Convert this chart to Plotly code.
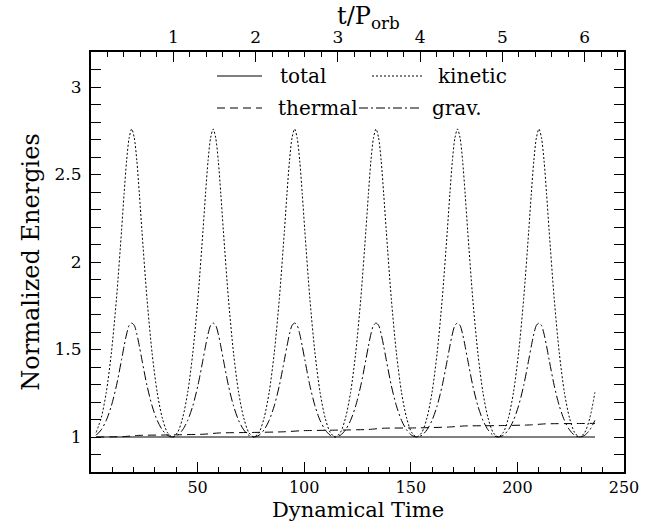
import plotly.graph_objects as go

# ---- data ----
time = [2.39, 4.78, 7.16, 9.55, 11.94, 14.33, 15.52, 16.71, 17.91, 19.10, 20.29, 21.49, 22.68, 23.88, 26.26, 28.65, 31.04, 33.43, 35.81, 38.20,
        40.59, 42.98, 45.36, 47.75, 50.14, 52.53, 53.72, 54.91, 56.11, 57.30, 58.49, 59.69, 60.88, 62.08, 64.46, 66.85, 69.24, 71.63, 74.01, 76.40,
        78.79, 81.18, 83.56, 85.95, 88.34, 90.73, 91.92, 93.11, 94.31, 95.50, 96.69, 97.89, 99.08, 100.28, 102.66, 105.05, 107.44, 109.83, 112.21, 114.60,
        116.99, 119.38, 121.76, 124.15, 126.54, 128.93, 130.12, 131.31, 132.51, 133.70, 134.89, 136.09, 137.28, 138.48, 140.86, 143.25, 145.64, 148.03, 150.41, 152.80,
        155.19, 157.58, 159.96, 162.35, 164.74, 167.13, 168.32, 169.51, 170.71, 171.90, 173.09, 174.29, 175.48, 176.68, 179.06, 181.45, 183.84, 186.23, 188.61, 191.00,
        193.39, 195.78, 198.16, 200.55, 202.94, 205.33, 206.52, 207.71, 208.91, 210.10, 211.29, 212.49, 213.68, 214.88, 217.26, 219.65, 222.04, 224.43, 226.81, 229.20,
        231.59, 233.98, 236.36]

kinetic = [1.026, 1.109, 1.255, 1.48, 1.79, 2.18, 2.39, 2.58, 2.71, 2.76, 2.71, 2.58, 2.39, 2.18, 1.79, 1.48, 1.255, 1.109, 1.026, 1.000,
           1.026, 1.109, 1.255, 1.48, 1.79, 2.18, 2.39, 2.58, 2.71, 2.76, 2.71, 2.58, 2.39, 2.18, 1.79, 1.48, 1.255, 1.109, 1.026, 1.000,
           1.026, 1.109, 1.255, 1.48, 1.79, 2.18, 2.39, 2.58, 2.71, 2.76, 2.71, 2.58, 2.39, 2.18, 1.79, 1.48, 1.255, 1.109, 1.026, 1.000,
           1.026, 1.109, 1.255, 1.48, 1.79, 2.18, 2.39, 2.58, 2.71, 2.76, 2.71, 2.58, 2.39, 2.18, 1.79, 1.48, 1.255, 1.109, 1.026, 1.000,
           1.026, 1.109, 1.255, 1.48, 1.79, 2.18, 2.39, 2.58, 2.71, 2.76, 2.71, 2.58, 2.39, 2.18, 1.79, 1.48, 1.255, 1.109, 1.026, 1.000,
           1.026, 1.109, 1.255, 1.48, 1.79, 2.18, 2.39, 2.58, 2.71, 2.76, 2.71, 2.58, 2.39, 2.18, 1.79, 1.48, 1.255, 1.109, 1.026, 1.000,
           1.026, 1.109, 1.255]

grav = [1.010, 1.041, 1.095, 1.178, 1.294, 1.442, 1.519, 1.589, 1.638, 1.651, 1.638, 1.589, 1.519, 1.442, 1.294, 1.178, 1.095, 1.041, 1.010, 1.000,
        1.010, 1.041, 1.095, 1.178, 1.294, 1.442, 1.519, 1.589, 1.638, 1.651, 1.638, 1.589, 1.519, 1.442, 1.294, 1.178, 1.095, 1.041, 1.010, 1.000,
        1.010, 1.041, 1.095, 1.178, 1.294, 1.442, 1.519, 1.589, 1.638, 1.651, 1.638, 1.589, 1.519, 1.442, 1.294, 1.178, 1.095, 1.041, 1.010, 1.000,
        1.010, 1.041, 1.095, 1.178, 1.294, 1.442, 1.519, 1.589, 1.638, 1.651, 1.638, 1.589, 1.519, 1.442, 1.294, 1.178, 1.095, 1.041, 1.010, 1.000,
        1.010, 1.041, 1.095, 1.178, 1.294, 1.442, 1.519, 1.589, 1.638, 1.651, 1.638, 1.589, 1.519, 1.442, 1.294, 1.178, 1.095, 1.041, 1.010, 1.000,
        1.010, 1.041, 1.095, 1.178, 1.294, 1.442, 1.519, 1.589, 1.638, 1.651, 1.638, 1.589, 1.519, 1.442, 1.294, 1.178, 1.095, 1.041, 1.010, 1.000,
        1.010, 1.041, 1.095]

thermal_t = [2.4, 15, 22, 38, 53, 60, 76, 91, 99, 114, 130, 137, 153, 168, 175, 191, 206, 213, 229, 236.4]
thermal = [1.000, 1.002, 1.009, 1.012, 1.016, 1.023, 1.026, 1.030, 1.036, 1.039, 1.043, 1.050, 1.052, 1.057, 1.063, 1.065, 1.069, 1.075, 1.077, 1.078]

total_t = [2.4, 50, 100, 150, 200, 236.4]
total = [1.0, 1.0, 1.0, 1.0, 1.0, 1.0]

x_ticks = [50, 100, 150, 200, 250]
y_ticks = [1, 1.5, 2, 2.5, 3]
orb_ticks = [1, 2, 3, 4, 5, 6]
P_ORB = 38.6
X_MAX = 250

legend_items = ["total", "kinetic", "thermal", "grav."]

FONT = "DejaVu Serif"
ink = "black"

fig = go.Figure()
fig.add_trace(go.Scatter(x=total_t, y=total, mode="lines", name="total",
                         line=dict(color=ink, width=1), showlegend=False))
fig.add_trace(go.Scatter(x=time, y=kinetic, mode="lines", name="kinetic",
                         line=dict(color=ink, width=1, dash="2px,2px", shape="spline", smoothing=0.8), showlegend=False))
fig.add_trace(go.Scatter(x=thermal_t, y=thermal, mode="lines", name="thermal",
                         line=dict(color=ink, width=1, dash="8px,5px", shape="spline", smoothing=0.6), showlegend=False))
fig.add_trace(go.Scatter(x=time, y=grav, mode="lines", name="grav.",
                         line=dict(color=ink, width=1, dash="9px,3px,2px,3px", shape="spline", smoothing=0.8), showlegend=False))
# invisible trace to carry the top axis
fig.add_trace(go.Scatter(x=[0, X_MAX / P_ORB], y=[1, 1], xaxis="x2", mode="lines",
                         line=dict(width=0), hoverinfo="skip", showlegend=False, opacity=0))

axis_common = dict(showgrid=False, zeroline=False, showline=True, linecolor=ink, linewidth=2,
                   ticks="inside", ticklen=10, tickwidth=1, tickcolor=ink, automargin=False)

fig.update_layout(
    width=647, height=523,
    margin=dict(l=91, r=23, t=52, b=51, autoexpand=False),
    paper_bgcolor="white", plot_bgcolor="white",
    font=dict(family=FONT, color=ink),
    xaxis=dict(range=[0, X_MAX], tickmode="array", tickvals=x_ticks, mirror=True,
               tickfont=dict(family=FONT, size=16, color=ink),
               minor=dict(tickmode="linear", tick0=0, dtick=10, ticklen=5, ticks="inside", tickcolor=ink),
               **axis_common),
    xaxis2=dict(range=[0, X_MAX / P_ORB], overlaying="x", side="top", anchor="y",
                tickmode="array", tickvals=orb_ticks,
                tickfont=dict(family=FONT, size=17, color=ink),
                minor=dict(tickmode="linear", tick0=0, dtick=0.2, ticklen=5, ticks="inside", tickcolor=ink),
                **axis_common),
    yaxis=dict(range=[0.8, 3.2], tickmode="array", tickvals=y_ticks, mirror="allticks",
               ticklabelstandoff=4,
               tickfont=dict(family=FONT, size=17, color=ink),
               minor=dict(tickmode="linear", tick0=0, dtick=0.1, ticklen=5, ticks="inside", tickcolor=ink),
               title=dict(text="Normalized Energies", font=dict(family=FONT, size=24, color=ink), standoff=8),
               **axis_common),
)

fig.add_annotation(text="Dynamical Time", x=0.5, y=0.0, xref="paper", yref="paper",
                   xanchor="center", yanchor="bottom", yshift=-51, borderpad=0, showarrow=False,
                   font=dict(family=FONT, size=21, color=ink))
fig.add_annotation(text="t/P<sub>orb</sub>", x=0.52, y=1.0, xref="paper", yref="paper",
                   xanchor="center", yanchor="middle", yshift=35, showarrow=False,
                   font=dict(family=FONT, size=24, color=ink))

# legend drawn inside the frame (two rows, two columns)
def px_x(p):
    return (p - 91) / 533

def px_y(p):
    return (472 - p) / 420

leg = [
    (legend_items[0], "solid", 217, 262, 278, 76),
    (legend_items[1], "2px,2px", 372, 424, 436, 76),
    (legend_items[2], "8px,5px", 217, 262, 276, 108),
    (legend_items[3], "9px,3px,2px,3px", 359, 421, 430, 108),
]
for name, dash, x0, x1, xt, yy in leg:
    fig.add_shape(type="line", xref="paper", yref="paper",
                  x0=px_x(x0), x1=px_x(x1), y0=px_y(yy), y1=px_y(yy),
                  line=dict(color=ink, width=1, dash=dash))
    fig.add_annotation(text=name, x=px_x(xt), y=px_y(yy), xref="paper", yref="paper",
                       xanchor="left", yanchor="middle", showarrow=False,
                       font=dict(family=FONT, size=20, color=ink))

fig.write_html("out.html")
